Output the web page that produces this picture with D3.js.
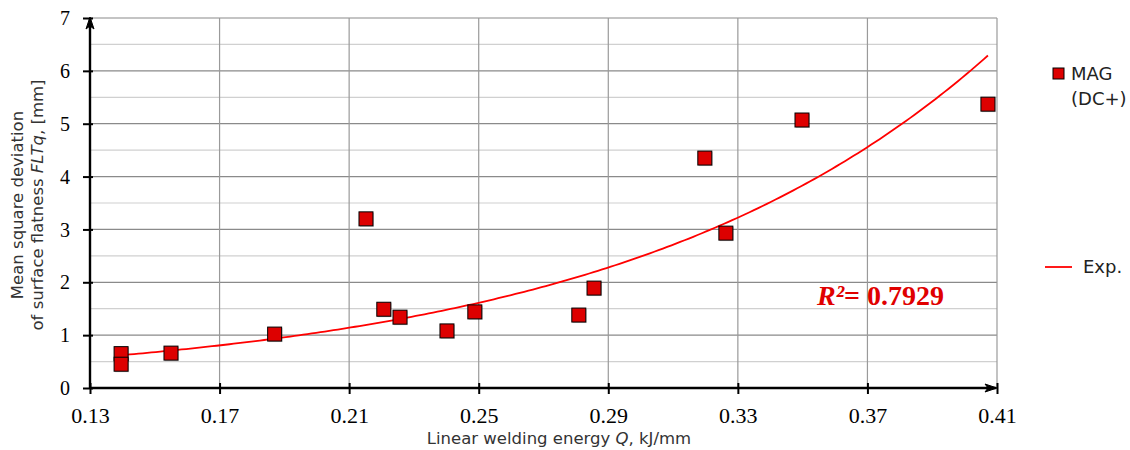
<!DOCTYPE html>
<html><head><meta charset="utf-8">
<script src="https://cdn.jsdelivr.net/npm/d3@7"></script>
<style>body{margin:0;background:#fff}
.tlx{font-family:"Liberation Serif","Times New Roman",serif !important;font-size:22px !important;fill:#000}
.tly{font-family:"Liberation Serif","Times New Roman",serif !important;font-size:20px !important;fill:#000}</style>
</head><body>
<svg id="c" width="1130" height="450"></svg>
<script>
const xTicks = [0.13, 0.17, 0.21, 0.25, 0.29, 0.33, 0.37, 0.41];
const yTicks = [0, 1, 2, 3, 4, 5, 6, 7];
const qValues = [0.1396, 0.1396, 0.155, 0.187, 0.2152, 0.2207, 0.2257, 0.2402, 0.2488, 0.2809, 0.2856, 0.3198, 0.3263, 0.3498, 0.4072];
const fltValues = [0.65, 0.45, 0.66, 1.02, 3.20, 1.49, 1.34, 1.08, 1.44, 1.38, 1.89, 4.35, 2.93, 5.07, 5.37];
const trendA = 0.185, trendB = 8.66; // exponential trend y = a*e^(b*x)
const r2Label = "0.7929";

const svg = d3.select("#c");
const x = d3.scaleLinear().domain([0.13, 0.41]).range([90, 997]);
const y = d3.scaleLinear().domain([0, 7]).range([388, 18]);

const g = svg.append("g");
d3.range(0.5, 7, 1).forEach(v => {
  g.append("line").attr("x1", 90).attr("x2", 997).attr("y1", y(v)).attr("y2", y(v))
   .attr("stroke", "#d0d0d0").attr("stroke-width", 1.2);
});
yTicks.slice(1).forEach(v => {
  g.append("line").attr("x1", 90).attr("x2", 997).attr("y1", y(v)).attr("y2", y(v))
   .attr("stroke", "#8a8a8a").attr("stroke-width", 1.2);
});
xTicks.slice(1).forEach(v => {
  g.append("line").attr("x1", x(v)).attr("x2", x(v)).attr("y1", 18).attr("y2", 388)
   .attr("stroke", "#9a9a9a").attr("stroke-width", 1.2);
});

const xs = d3.range(0, 201).map(i => qValues[0] + (d3.max(qValues) - qValues[0]) * i / 200);
svg.append("path")
  .attr("d", d3.line().x(d => x(d)).y(d => y(trendA * Math.exp(trendB * d)))(xs))
  .attr("fill", "none").attr("stroke", "#ff0000").attr("stroke-width", 1.8);

const xAxis = svg.append("g").attr("transform", "translate(0,388)")
  .call(d3.axisBottom(x).tickValues(xTicks).tickFormat(d3.format(".2f")).tickSize(6).tickSizeOuter(0));
xAxis.attr("font-family", null).attr("font-size", null);
xAxis.select(".domain").attr("stroke", "#000").attr("stroke-width", 2.4).attr("d", "M90,0H996");
xAxis.selectAll(".tick line").attr("stroke", "#000").attr("stroke-width", 2).attr("y1", -5).attr("y2", 6);
xAxis.selectAll(".tick text").attr("class", "tlx").attr("y", 35).attr("dy", 0);
svg.append("path").attr("d", "M985,384 L997,388 L985,392 L988,388 Z").attr("fill", "#000").attr("stroke", "#000").attr("stroke-width", 1);

const yAxis = svg.append("g").attr("transform", "translate(90,0)")
  .call(d3.axisLeft(y).tickValues(yTicks).tickFormat(d3.format("d")).tickSize(7).tickSizeOuter(0));
yAxis.attr("font-family", null).attr("font-size", null);
yAxis.select(".domain").attr("stroke", "#000").attr("stroke-width", 2.4).attr("d", "M0,388V19");
yAxis.selectAll(".tick line").attr("stroke", "#000").attr("stroke-width", 2).attr("x2", -7).attr("x1", 3);
yAxis.selectAll(".tick text").attr("class", "tly").attr("x", -20).attr("dy", "0.33em");
svg.append("path").attr("d", "M86,29 L90,17 L94,29 L90,26 Z").attr("fill", "#000").attr("stroke", "#000").attr("stroke-width", 1);

const pts = qValues.map((q, i) => [q, fltValues[i]]);
svg.append("g").selectAll("rect").data(pts).join("rect")
  .attr("x", d => x(d[0]) - 6).attr("y", d => y(d[1]) - 6).attr("width", 14).attr("height", 14)
  .attr("fill", "#000").attr("opacity", 0.18);
svg.append("g").selectAll("rect").data(pts).join("rect")
  .attr("x", d => x(d[0]) - 7).attr("y", d => y(d[1]) - 7).attr("width", 14).attr("height", 14)
  .attr("fill", "#dd0000").attr("stroke", "#000").attr("stroke-width", 1);

const r2 = svg.append("text").attr("x", 817).attr("y", 305)
  .attr("font-family", "Liberation Serif").attr("font-size", 28).attr("font-weight", "bold").attr("fill", "#e00000");
r2.append("tspan").attr("font-style", "italic").text("R²");
r2.append("tspan").text("= " + r2Label);

svg.append("text").attr("x", 559).attr("y", 444).attr("text-anchor", "middle")
  .attr("font-family", "DejaVu Sans").attr("font-size", 16.5).attr("fill", "#333")
  .html('Linear welding energy <tspan font-style="italic">Q</tspan>, kJ/mm');
const yt = svg.append("text").attr("transform", "translate(0,205) rotate(-90)")
  .attr("text-anchor", "middle").attr("font-family", "DejaVu Sans").attr("font-size", 16.5).attr("fill", "#333");
yt.append("tspan").attr("x", 0).attr("y", 23).text("Mean square deviation");
yt.append("tspan").attr("x", 0).attr("y", 43).html('of surface flatness <tspan font-style="italic">FLTq</tspan>, [mm]');

svg.append("rect").attr("x", 1053).attr("y", 68).attr("width", 11).attr("height", 11)
  .attr("fill", "#dd0000").attr("stroke", "#000").attr("stroke-width", 1);
svg.append("text").attr("x", 1071).attr("y", 80).attr("font-family", "DejaVu Sans").attr("font-size", 18).attr("fill", "#222").text("MAG");
svg.append("text").attr("x", 1071).attr("y", 105).attr("font-family", "DejaVu Sans").attr("font-size", 18).attr("fill", "#222").text("(DC+)");
svg.append("line").attr("x1", 1045).attr("x2", 1072).attr("y1", 267).attr("y2", 267).attr("stroke", "#ff0000").attr("stroke-width", 1.8);
svg.append("text").attr("x", 1083).attr("y", 273).attr("font-family", "DejaVu Sans").attr("font-size", 18).attr("fill", "#222").text("Exp.");
</script>
</body></html>
